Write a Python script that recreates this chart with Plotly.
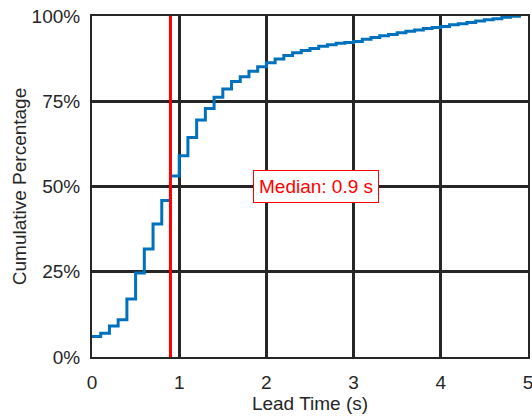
import plotly.graph_objects as go

# Lead-time step edges (s) and cumulative share (%) reached at each edge
lead_time_s = [0.0, 0.1, 0.2, 0.3, 0.4, 0.5, 0.6, 0.7, 0.8, 0.9,
               1.0, 1.1, 1.2, 1.3, 1.4, 1.5, 1.6, 1.7, 1.8, 1.9,
               2.0, 2.1, 2.2, 2.3, 2.4, 2.5, 2.6, 2.7, 2.8, 2.9,
               3.0, 3.1, 3.2, 3.3, 3.4, 3.5, 3.6, 3.7, 3.8, 3.9,
               4.0, 4.1, 4.2, 4.3, 4.4, 4.5, 4.6, 4.7, 4.8, 4.9, 4.92]
cumulative_pct = [6.0, 7.0, 9.1, 10.9, 17.0, 24.6, 31.7, 39.0, 45.9, 53.1,
                  59.0, 64.4, 69.5, 72.9, 76.2, 78.6, 80.8, 82.2, 83.8, 85.1,
                  86.3, 87.4, 88.4, 89.2, 89.9, 90.5, 91.1, 91.6, 92.0, 92.2,
                  92.5, 93.2, 93.7, 94.2, 94.6, 95.1, 95.5, 95.9, 96.3, 96.6,
                  96.9, 97.4, 97.7, 98.1, 98.5, 98.9, 99.2, 99.6, 99.9, 100.0, 100.0]

median_s = 0.9
median_label = "Median: 0.9 s"

x_ticks = [0, 1, 2, 3, 4, 5]
y_ticks = [0, 25, 50, 75, 100]
y_tick_labels = ["0%", "25%", "50%", "75%", "100%"]

ink = "#262626"
font_family = "Liberation Sans, Arial, Helvetica, sans-serif"
fs = 19

fig = go.Figure()

fig.add_trace(go.Scatter(
    x=lead_time_s, y=cumulative_pct,
    mode="lines", line=dict(color="#0072BD", width=3, shape="hv"),
    showlegend=False, hoverinfo="skip",
))

fig.add_trace(go.Scatter(
    x=[median_s, median_s], y=[0, 100],
    mode="lines", line=dict(color="#FF0000", width=3),
    showlegend=False, hoverinfo="skip",
))

fig.add_annotation(
    x=2.57, y=50, xref="x", yref="y",
    text=median_label, showarrow=False,
    font=dict(family=font_family, size=fs, color="#FF0000"),
    bgcolor="white", bordercolor="#FF0000", borderwidth=1, borderpad=5,
)

fig.update_xaxes(
    range=[0, 5], tickvals=x_ticks,
    showgrid=True, gridcolor=ink, gridwidth=3,
    zeroline=False, showline=True, linecolor=ink, linewidth=2, mirror=True,
    ticks="", ticklabelstandoff=7, ticklabeloverflow="allow",
    tickfont=dict(family=font_family, size=fs, color=ink),
    title=dict(text="Lead Time (s)", font=dict(family=font_family, size=fs, color=ink), standoff=4),
)
fig.update_yaxes(
    range=[0, 100], tickvals=y_ticks, ticktext=y_tick_labels,
    showgrid=True, gridcolor=ink, gridwidth=3,
    zeroline=False, showline=True, linecolor=ink, linewidth=2, mirror=True,
    ticks="", ticklabelstandoff=6, ticklabeloverflow="allow",
    tickfont=dict(family=font_family, size=fs, color=ink),
    title=dict(text="Cumulative Percentage", font=dict(family=font_family, size=fs, color=ink), standoff=0),
)

fig.update_layout(
    width=532, height=418,
    margin=dict(l=92, r=4, t=16, b=61, autoexpand=False),
    plot_bgcolor="white", paper_bgcolor="white",
)

fig.write_html("out.html")
